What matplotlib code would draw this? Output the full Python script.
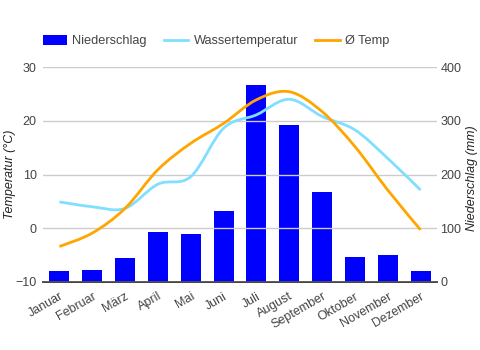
import matplotlib
matplotlib.use("Agg")
import matplotlib.pyplot as plt
from matplotlib.path import Path
from matplotlib.patches import PathPatch, Patch
from matplotlib.lines import Line2D
import numpy as np

months = ["Januar", "Februar", "März", "April", "Mai", "Juni", "Juli",
          "August", "September", "Oktober", "November", "Dezember"]
niederschlag = [20, 22, 45, 93, 89, 132, 367, 292, 168, 47, 50, 20]
wassertemp = [4.9, 4.0, 3.7, 8.2, 9.6, 18.6, 21.1, 24.0, 20.8, 18.3, 13.0, 7.1]
avg_temp = [-3.4, -0.9, 3.7, 10.9, 15.8, 19.5, 23.9, 25.4, 21.7, 15.2, 7.1, -0.3]

plt.rcParams['font.family'] = ['Liberation Sans', 'DejaVu Sans']
TXT = '#444444'
W, H = 481, 350

fig = plt.figure(figsize=(4.81, 3.5), dpi=100)
ax = fig.add_axes([43/W, 1-282/H, (437-43)/W, (282-67)/H])
ax2 = ax.twinx()

x = np.arange(len(months))

ax2.bar(x, niederschlag, width=0.61, color='#0000ff', zorder=2)
ax2.set_ylim(0, 400)
ax.set_ylim(-10, 30)
ax.set_xlim(-0.5, 11.5)

ax.set_zorder(ax2.get_zorder() + 1)
ax.patch.set_visible(False)

def smooth_path(xs, ys):
    pts = np.column_stack([xs, ys]).astype(float)
    n = len(pts)
    verts = [pts[0]]
    codes = [Path.MOVETO]
    for i in range(n - 1):
        p0 = pts[i - 1] if i > 0 else pts[i]
        p1 = pts[i]
        p2 = pts[i + 1]
        p3 = pts[i + 2] if i + 2 < n else pts[i + 1]
        c1 = p1 + (p2 - p0) / 6.0
        c2 = p2 - (p3 - p1) / 6.0
        verts += [c1, c2, p2]
        codes += [Path.CURVE4] * 3
    return Path(verts, codes)

ax.add_patch(PathPatch(smooth_path(x, wassertemp), fill=False,
                       edgecolor='#80dfff', lw=2, zorder=3, capstyle='butt'))
ax.add_patch(PathPatch(smooth_path(x, avg_temp), fill=False,
                       edgecolor='#ffa500', lw=2, zorder=4, capstyle='butt'))

ax.set_yticks([-10, 0, 10, 20, 30])
ax.yaxis.grid(True, color='#cccccc', lw=1)
ax.set_axisbelow(True)
ax2.set_yticks([0, 100, 200, 300, 400])

for a in (ax, ax2):
    for s in a.spines.values():
        s.set_visible(False)
ax2.spines['bottom'].set_visible(True)
ax2.spines['bottom'].set_color('#333333')
ax2.spines['bottom'].set_linewidth(1.3)

ax.tick_params(axis='y', length=0, pad=4.5, labelsize=9, labelcolor=TXT)
ax2.tick_params(axis='y', length=0, pad=2.5, labelsize=9, labelcolor=TXT)
ax.set_xticks(x)
ax.set_xticklabels(months, rotation=30, ha='right', rotation_mode='anchor',
                   fontsize=9, color=TXT)
ax.tick_params(axis='x', length=0, pad=6)
ax2.tick_params(axis='x', length=0)

fig.text(10/W, 1-174/H, "Temperatur (°C)", fontstyle='italic', fontsize=9,
         color='#222222', rotation=90, ha='center', va='center')
fig.text(472/W, 1-178/H, "Niederschlag (mm)", fontstyle='italic', fontsize=9,
         color='#222222', rotation=90, ha='center', va='center')

handles = [Patch(facecolor='#0000ff', edgecolor='none'),
           Line2D([], [], color='#80dfff', lw=2),
           Line2D([], [], color='#ffa500', lw=2)]
fig.legend(handles, ["Niederschlag", "Wassertemperatur", "Ø Temp"],
           loc='center left', bbox_to_anchor=(43/W, 1-41/H), ncol=3,
           frameon=False, fontsize=9.2, handlelength=1.9, handleheight=0.9,
           columnspacing=1.35, handletextpad=0.4, labelcolor=TXT, borderaxespad=0,
           borderpad=0)

fig.savefig("out.png", dpi=100)
